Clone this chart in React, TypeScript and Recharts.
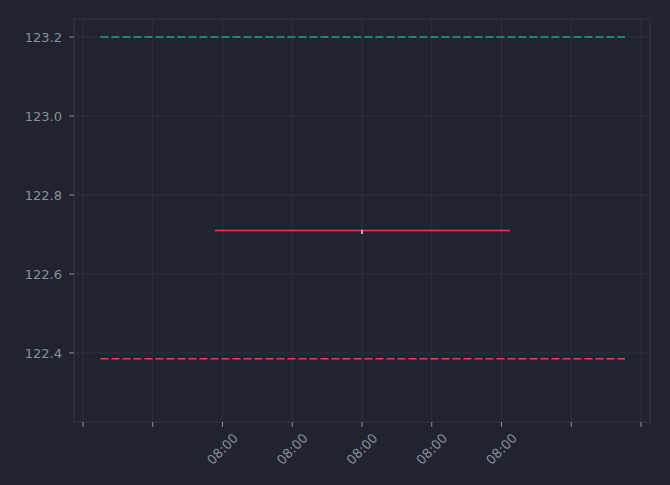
import {
  CartesianGrid,
  ComposedChart,
  Line,
  ReferenceArea,
  XAxis,
  YAxis,
} from "recharts";

const xTicks = [-4, -3, -2, -1, 0, 1, 2, 3, 4];
const xTickLabels = ["", "", "08:00", "08:00", "08:00", "08:00", "08:00", "", ""];
const yTicks = [122.4, 122.6, 122.8, 123.0, 123.2];

const highLevel = 123.2;
const lowLevel = 122.385;
const lastPrice = 122.71;
const candleOpen = 122.712;
const candleClose = 122.701;

const levelStart = -3.75;
const levelEnd = 3.77;
const priceStart = -2.11;
const priceEnd = 2.12;

const xDomain: [number, number] = [-4.129, 4.129];
const yDomain: [number, number] = [122.225, 123.2456];

const highData = [
  { x: levelStart, y: highLevel },
  { x: levelEnd, y: highLevel },
];
const lowData = [
  { x: levelStart, y: lowLevel },
  { x: levelEnd, y: lowLevel },
];
const priceData = [
  { x: priceStart, y: lastPrice },
  { x: priceEnd, y: lastPrice },
];
const candleData = [
  { x: 0, y: candleOpen },
  { x: 0, y: candleClose },
];

const bg = "#1f2430";
const gridColor = "#2c313d";
const textColor = "#8a909c";

function XTick(props: any) {
  const { x, y, payload } = props;
  const idx = xTicks.indexOf(payload.value);
  const label = idx >= 0 ? xTickLabels[idx] : "";
  if (!label) return null;
  const cy = y + 20;
  return (
    <text
      x={x}
      y={cy}
      fill={textColor}
      fontSize={13}
      textAnchor="middle"
      dominantBaseline="central"
      transform={`rotate(-45, ${x}, ${cy})`}
    >
      {label}
    </text>
  );
}

export default function App() {
  return (
    <div
      style={{
        position: "absolute",
        left: 0,
        top: 0,
        width: 670,
        height: 485,
        background: bg,
        fontFamily: "DejaVu Sans",
      }}
    >
      <ComposedChart
        width={670}
        height={485}
        margin={{ top: 19, right: 20, bottom: 0, left: 0 }}
      >
        <CartesianGrid stroke={gridColor} />
        <XAxis
          type="number"
          dataKey="x"
          domain={xDomain}
          ticks={xTicks}
          allowDataOverflow
          height={63}
          tickSize={5}
          axisLine={{ stroke: gridColor }}
          tickLine={{ stroke: textColor }}
          tick={<XTick />}
        />
        <YAxis
          type="number"
          dataKey="y"
          domain={yDomain}
          ticks={yTicks}
          allowDataOverflow
          width={74}
          tickSize={5}
          tickMargin={7}
          axisLine={{ stroke: gridColor }}
          tickLine={{ stroke: textColor }}
          tick={{ fill: textColor, fontSize: 13 }}
          tickFormatter={(v: number) => v.toFixed(1)}
        />
        <ReferenceArea
          x1={xDomain[0]}
          x2={xDomain[1]}
          y1={yDomain[0]}
          y2={yDomain[1]}
          fill="none"
          stroke={gridColor}
        />
        <Line
          data={highData}
          dataKey="y"
          stroke="#26a17b"
          strokeWidth={1.6}
          strokeDasharray="8 3"
          dot={false}
          isAnimationActive={false}
        />
        <Line
          data={lowData}
          dataKey="y"
          stroke="#e4404f"
          strokeWidth={1.6}
          strokeDasharray="8 3"
          dot={false}
          isAnimationActive={false}
        />
        <Line
          data={priceData}
          dataKey="y"
          stroke="#f23645"
          strokeWidth={1.5}
          dot={false}
          isAnimationActive={false}
        />
        <Line
          data={candleData}
          dataKey="y"
          stroke="#b2b5be"
          strokeWidth={2}
          dot={false}
          isAnimationActive={false}
        />
      </ComposedChart>
    </div>
  );
}
